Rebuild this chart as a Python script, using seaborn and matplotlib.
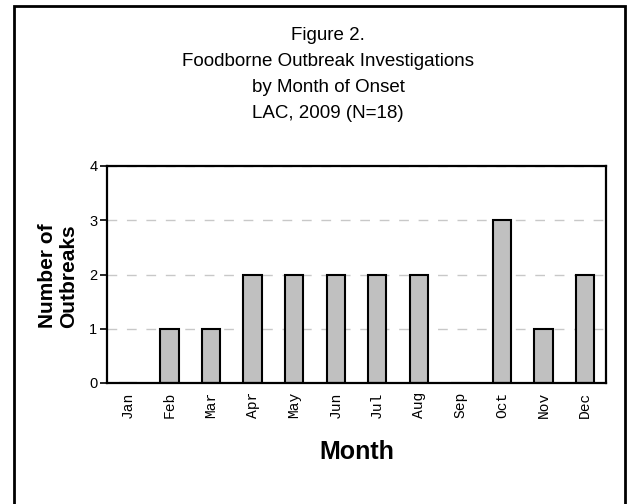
import pandas as pd
import matplotlib
matplotlib.use("Agg")
import matplotlib.pyplot as plt
import matplotlib.patches as patches
import seaborn as sns

# data
months = ["Jan", "Feb", "Mar", "Apr", "May", "Jun",
          "Jul", "Aug", "Sep", "Oct", "Nov", "Dec"]
outbreaks = [0, 1, 1, 2, 2, 2, 2, 2, 0, 3, 1, 2]

df = pd.DataFrame({"month": months, "outbreaks": outbreaks})

sns.set_style("white")
plt.rcParams["font.family"] = ["Liberation Sans", "DejaVu Sans"]
plt.rcParams["text.color"] = "black"
plt.rcParams["xtick.color"] = "black"
plt.rcParams["ytick.color"] = "black"

fig = plt.figure(figsize=(6.31, 5.04), dpi=100)
ax = fig.add_axes([107 / 631, 1 - 383 / 504, 499 / 631, 217 / 504])

sns.barplot(
    data=df,
    x="month",
    y="outbreaks",
    order=months,
    color="#C0C0C0",
    edgecolor="black",
    linewidth=1.5,
    width=0.44,
    saturation=1,
    ax=ax
)

ax.set_ylim(0, 4)
ax.set_yticks([0, 1, 2, 3, 4])
ax.set_xlim(-0.5, 11.5)
ax.yaxis.grid(True, color="#C8C8C8", linestyle=(0, (7, 7)), linewidth=1)
ax.set_axisbelow(True)

for s in ax.spines.values():
    s.set_visible(True)
    s.set_color("black")
    s.set_linewidth(1.6)

ax.tick_params(axis="y", left=True, length=5, width=1.2, labelsize=10.5,
               pad=2, colors="black")
ax.tick_params(axis="x", bottom=False, length=0, pad=6, colors="black")
for lab in ax.get_xticklabels():
    lab.set_rotation(90)
    lab.set_family(["Liberation Mono", "DejaVu Sans Mono"])
    lab.set_fontsize(10.5)

ax.set_xlabel("")
ax.set_ylabel("")

# titles
title_lines = ["Figure 2.", "Foodborne Outbreak Investigations",
               "by Month of Onset", "LAC, 2009 (N=18)"]
for i, line in enumerate(title_lines):
    fig.text(328 / 631, 1 - (36 + 25.7 * i) / 504, line,
             ha="center", va="center", fontsize=13.5)

fig.text(58 / 631, 1 - 276 / 504, "Number of\nOutbreaks", rotation=90,
         ha="center", va="center", fontsize=15, fontweight="bold",
         linespacing=1.1)
fig.text(357 / 631, 1 - 452 / 504, "Month", ha="center", va="center",
         fontsize=18, fontweight="bold")

# outer border
fig.patches.append(patches.Rectangle(
    (14 / 631, -0.02), (625 - 14) / 631, 1.02 - 6 / 504,
    transform=fig.transFigure, fill=False, edgecolor="black", linewidth=2
))

fig.savefig("out.png", dpi=100)
